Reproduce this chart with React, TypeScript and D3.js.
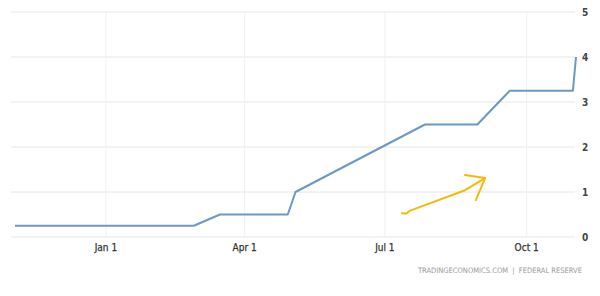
import React from "react";
import * as d3 from "d3";

const W = 600;
const H = 296;

// Federal funds rate (upper bound, %)
const rateDates = [
  "2021-11-03", "2022-02-27", "2022-03-16", "2022-04-29", "2022-05-04",
  "2022-07-27", "2022-08-30", "2022-09-20", "2022-10-31", "2022-11-02",
];
const rateValues = [0.25, 0.25, 0.5, 0.5, 1.0, 2.5, 2.5, 3.25, 3.25, 4.0];

const yTicks = [0, 1, 2, 3, 4, 5];
const xTickDates = ["2022-01-01", "2022-04-01", "2022-07-01", "2022-10-01"];
const xTickLabels = ["Jan 1", "Apr 1", "Jul 1", "Oct 1"];

// Hand-drawn yellow arrow annotation (in data coordinates)
const arrowShaftDates = ["2022-07-12", "2022-07-15", "2022-07-17", "2022-08-22", "2022-09-04"];
const arrowShaftValues = [0.53, 0.52, 0.58, 1.04, 1.31];
const arrowHeadDates = ["2022-08-22", "2022-09-04", "2022-08-29"];
const arrowHeadValues = [1.38, 1.31, 0.82];

const sourceText = "TRADINGECONOMICS.COM  |  FEDERAL RESERVE";

const parse = d3.timeParse("%Y-%m-%d");

export default function App() {
  const x = d3
    .scaleTime()
    .domain([parse("2021-11-03")!, parse("2022-11-02")!])
    .range([15, 576]);
  const y = d3.scaleLinear().domain([0, 5]).range([237, 12]);

  const pts = rateDates.map((d, i) => [parse(d)!, rateValues[i]] as [Date, number]);
  const line = d3
    .line<[Date, number]>()
    .x((d) => x(d[0]))
    .y((d) => y(d[1]));

  const shaft = arrowShaftDates.map((d, i) => [parse(d)!, arrowShaftValues[i]] as [Date, number]);
  const head = arrowHeadDates.map((d, i) => [parse(d)!, arrowHeadValues[i]] as [Date, number]);

  const font = "'DejaVu Sans Condensed', 'Liberation Sans', Arial, sans-serif";

  return (
    <svg
      width={W}
      height={H}
      style={{ position: "absolute", left: 0, top: 0, background: "#fff" }}
      fontFamily={font}
    >
      <rect width={W} height={H} fill="#fff" />
      {/* horizontal gridlines */}
      {yTicks.map((t) => (
        <line key={"h" + t} x1={11} x2={575} y1={y(t)} y2={y(t)} stroke="#e6e6e6" strokeWidth={1} />
      ))}
      {/* vertical gridlines */}
      {xTickDates.map((d) => (
        <line
          key={"v" + d}
          x1={x(parse(d)!)}
          x2={x(parse(d)!)}
          y1={y(5)}
          y2={y(0)}
          stroke="#f0f0f0"
          strokeWidth={1}
        />
      ))}
      {/* y labels */}
      {yTicks.map((t) => (
        <text key={"yl" + t} x={582} y={y(t) + 3.5} fontSize={10} fill="#444" fontWeight="bold">
          {t}
        </text>
      ))}
      {/* x labels */}
      {xTickDates.map((d, i) => (
        <text
          key={"xl" + d}
          x={x(parse(d)!)}
          y={251}
          fontSize={10}
          fill="#333"
          stroke="#333"
          strokeWidth={0.25}
          textAnchor="middle"
        >
          {xTickLabels[i]}
        </text>
      ))}
      {/* data line */}
      <path d={line(pts)!} fill="none" stroke="#6b98c4" strokeWidth={2} strokeLinejoin="round" />
      {/* annotation arrow */}
      <path d={line(shaft)!} fill="none" stroke="#f5b90a" strokeWidth={2} strokeLinecap="round" strokeLinejoin="round" />
      <path d={line(head)!} fill="none" stroke="#f5b90a" strokeWidth={2} strokeLinecap="round" strokeLinejoin="round" />
      {/* source */}
      <text
        x={418}
        y={273}
        fontSize={7.5}
        fill="#9a9a9a"
        textLength={164}
        lengthAdjust="spacingAndGlyphs"
        style={{ whiteSpace: "pre" }}
      >
        {sourceText}
      </text>
    </svg>
  );
}
